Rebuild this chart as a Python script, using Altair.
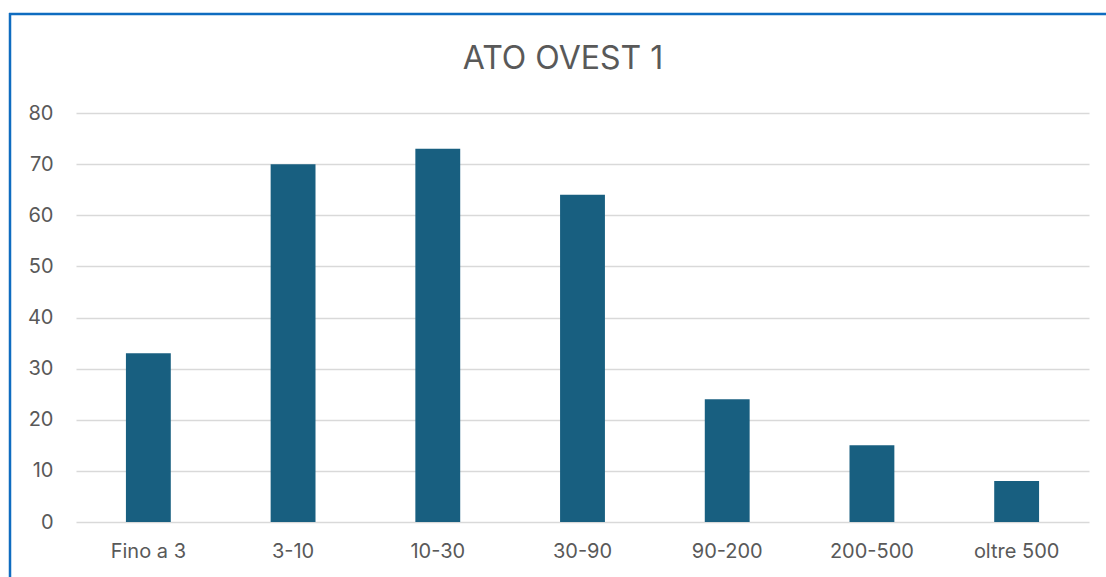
import altair as alt
import pandas as pd

# Classi di dimensione e numero di casi
categories = ["Fino a 3", "3-10", "10-30", "30-90", "90-200", "200-500", "oltre 500"]
values = [33, 70, 73, 64, 24, 15, 8]
y_ticks = [0, 10, 20, 30, 40, 50, 60, 70, 80]

df = pd.DataFrame({"classe": categories, "valore": values})
frame_df = pd.DataFrame({"k": [0]})

FONT = "Inter"
TEXT = "#595959"
BAR = "#185F80"
FRAME = "#0F6CC0"

bars = alt.Chart(df).mark_bar(color=BAR).encode(
    x=alt.X(
        "classe:N",
        sort=categories,
        title=None,
        scale=alt.Scale(paddingInner=0.69, paddingOuter=0.345),
        axis=alt.Axis(
            labelAngle=0, labelFontSize=20, labelColor=TEXT, labelFont=FONT,
            labelPadding=19, ticks=False, domain=False, grid=False,
        ),
    ),
    y=alt.Y(
        "valore:Q",
        title=None,
        scale=alt.Scale(domain=[0, 80], nice=False),
        axis=alt.Axis(
            values=y_ticks, labelFontSize=20, labelColor=TEXT, labelFont=FONT,
            labelPadding=23, ticks=False, domain=False,
            gridColor="#D9D9D9", gridWidth=1.6,
        ),
    ),
)

# Cornice blu attorno al grafico
frame_top = alt.Chart(frame_df).mark_rule(color=FRAME, strokeWidth=2.5, clip=False).encode(
    x=alt.value(-67), x2=alt.value(1060), y=alt.value(-99)
)
frame_left = alt.Chart(frame_df).mark_rule(color=FRAME, strokeWidth=2.5, clip=False).encode(
    x=alt.value(-66), y=alt.value(-100), y2=alt.value(480)
)

# Titolo del grafico
title = alt.Chart(frame_df).mark_text(
    text="ATO OVEST 1", font=FONT, fontSize=32, color=TEXT,
    align="center", baseline="alphabetic",
).encode(x=alt.value(487), y=alt.value(-44))

chart = alt.layer(bars, frame_top, frame_left, title).properties(
    width=1013,
    height=409,
    padding={"left": 76, "top": 113, "right": 17, "bottom": 55},
    autosize=alt.AutoSizeParams(type="none"),
    background="white",
).configure_view(stroke=None)

chart.save("out.html", embed_options={"renderer": "svg", "actions": False})
